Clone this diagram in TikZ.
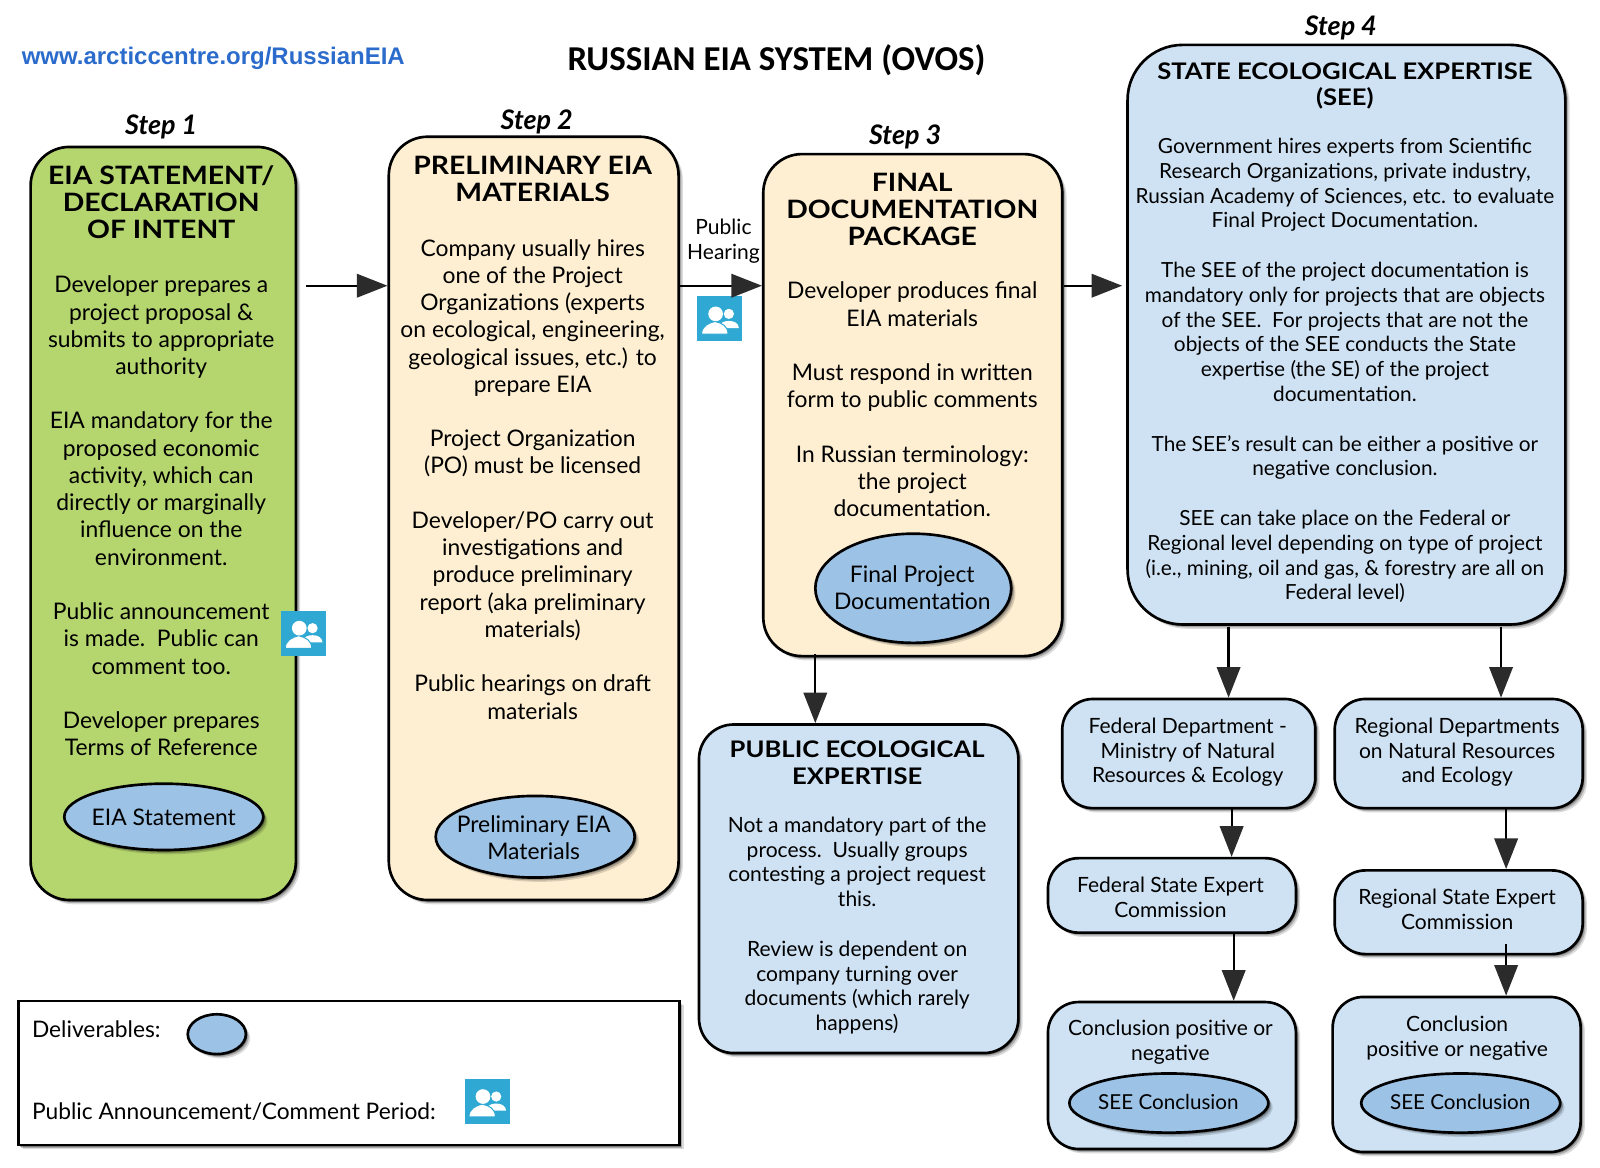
\documentclass[tikz,border=0pt]{standalone}
\usepackage{fontspec}
\usepackage{tikz}
\usetikzlibrary{arrows.meta,shapes.geometric,shadows}
\setmainfont{Lato}
\newfontfamily\urlfont{Liberation Sans}
\newfontfamily\titlefont{Carlito}
\newfontfamily\headfont[FakeStretch=1.12]{Lato}
\definecolor{stepgreen}{HTML}{B5D56F}
\definecolor{stepcream}{HTML}{FEEFD2}
\definecolor{stepblue}{HTML}{CFE2F3}
\definecolor{delivblue}{HTML}{9CC2E5}
\definecolor{iconblue}{HTML}{2FA9D3}
\definecolor{tipgrey}{HTML}{2B2B2B}
\definecolor{urlblue}{HTML}{2B6BCB}
\tikzset{
  softshadow/.style={
    drop shadow={shadow xshift=2.1pt,shadow yshift=-2.1pt,opacity=.14,fill=black},
    drop shadow={shadow xshift=1.4pt,shadow yshift=-1.4pt,opacity=.22,fill=black},
    drop shadow={shadow xshift=.8pt,shadow yshift=-.8pt,opacity=.3,fill=black}},
  stepbox/.style={draw,line width=1.3pt,rounded corners=19pt,inner sep=0pt,softshadow},
  smallbox/.style={stepbox,fill=stepblue,rounded corners=15pt},
  deliv/.style={ellipse,draw,line width=1.3pt,fill=delivblue,inner sep=0pt,softshadow},
  bodytext/.style={align=center,inner sep=0pt,anchor=north,font=\fontsize{11.2}{13.35}\selectfont},
  seetext/.style={align=center,inner sep=0pt,anchor=north,font=\fontsize{10.3}{12.15}\selectfont},
  headtext/.style={align=center,inner sep=0pt,anchor=north,font=\headfont\fontsize{12.4}{13.3}\selectfont\bfseries},
  seehead/.style={headtext,font=\headfont\fontsize{11.2}{12.8}\selectfont\bfseries},
  steplabel/.style={inner sep=0pt,font=\fontsize{13.2}{15}\selectfont\bfseries\itshape},
  delivtext/.style={inner sep=0pt,align=center,font=\fontsize{11.2}{13.35}\selectfont},
  flow/.style={draw=black,line width=1.1pt,-{Triangle[length=15pt,width=11.5pt,color=tipgrey]}},
  iconbox/.style={fill=iconblue,inner sep=0pt,minimum size=22pt},
  peopleicon/.pic={
    \fill[white] (8.8,-4.9) circle (5);
    \fill[white] (-2,9) .. controls (0,3) and (5,2) .. (8.8,2) .. controls (14,2) and (18,4) .. (18.6,9) -- cycle;
    \fill[white,draw=iconblue,line width=.5pt] (-18,15) .. controls (-18,7) and (-11,4) .. (-5,2.5) .. controls (2,4) and (8,7) .. (8,15) -- cycle;
    \fill[white] (-4.2,-4.9) circle (7.2);
  }
}
\begin{document}
\begin{tikzpicture}[x=0.5pt,y=-0.5pt]
\useasboundingbox (0,0) rectangle (1568,1144.6);
\node[inner sep=0pt,anchor=west,text=urlblue,font=\urlfont\fontsize{11.75}{13}\selectfont\bfseries] (urlsite) at (21,57) {www.arcticcentre.org/RussianEIA};
\node[inner sep=0pt,font=\titlefont\fontsize{17.1}{19}\selectfont\bfseries] (maintitle) at (761,59) {RUSSIAN EIA SYSTEM (OVOS)};
\node[steplabel] (labelone) at (158,124) {Step 1};
\node[steplabel] (labeltwo) at (526,119) {Step 2};
\node[steplabel] (labelthree) at (887,134) {Step 3};
\node[steplabel] (labelfour) at (1314,27) {Step 4};

\node[stepbox,fill=stepgreen,minimum width=130pt,minimum height=369pt] (stepone) at (160,513) {};
\node[stepbox,fill=stepcream,minimum width=142pt,minimum height=374pt] (steptwo) at (523,508) {};
\node[stepbox,fill=stepcream,minimum width=146.5pt,minimum height=246pt] (stepthree) at (894.5,397) {};
\node[stepbox,fill=stepblue,rounded corners=27pt,minimum width=214.5pt,minimum height=284pt] (stepfour) at (1319.5,328) {};
\node[stepbox,fill=stepblue,rounded corners=17pt,minimum width=156.5pt,minimum height=161pt] (pubexp) at (841.5,871) {};
\node[smallbox,minimum width=124pt,minimum height=53.5pt] (feddept) at (1165,738.5) {};
\node[smallbox,minimum width=121.5pt,minimum height=53.5pt] (regdept) at (1429.5,738.5) {};
\node[smallbox,minimum width=121.5pt,minimum height=36.5pt] (fedcomm) at (1148.5,877.5) {};
\node[smallbox,minimum width=121.5pt,minimum height=41pt] (regcomm) at (1429.5,894) {};
\node[smallbox,minimum width=121.5pt,minimum height=72pt] (fedconc) at (1148.5,1054) {};
\node[smallbox,minimum width=121.5pt,minimum height=76pt] (regconc) at (1427.5,1053) {};
\node[draw,line width=1.3pt,fill=white,inner sep=0pt,minimum width=324pt,minimum height=70.5pt,softshadow] (legendbox) at (342,1051.5) {};

\node[headtext] (headone) at (158,162) {EIA STATEMENT/\\DECLARATION\\OF INTENT};
\node[bodytext] (textone) at (158,270) {Developer prepares a\\project proposal \&\\submits to appropriate\\authority\\[13.35pt]
EIA mandatory for the\\proposed economic\\activity, which can\\directly or marginally\\influence on the\\environment.\\[13.35pt]
Public announcement\\is made.\ \ Public can\\comment too.\\[13.35pt]
Developer prepares\\Terms of Reference};
\node[headtext] (headtwo) at (522,152.5) {PRELIMINARY EIA\\MATERIALS};
\node[bodytext] (texttwo) at (522,234) {Company usually hires\\one of the Project\\Organizations (experts\\on ecological, engineering,\\geological issues, etc.) to\\prepare EIA\\[13.35pt]
Project Organization\\(PO) must be licensed\\[13.35pt]
Developer/PO carry out\\investigations and\\produce preliminary\\report (aka preliminary\\materials)\\[13.35pt]
Public hearings on draft\\materials};
\node[headtext] (headthree) at (894,169) {FINAL\\DOCUMENTATION\\PACKAGE};
\node[bodytext] (textthree) at (894,276) {Developer produces final\\EIA materials\\[13.35pt]
Must respond in written\\form to public comments\\[13.35pt]
In Russian terminology:\\the project\\documentation.};
\node[seehead] (headfour) at (1318,61) {STATE ECOLOGICAL EXPERTISE\\(SEE)};
\node[seetext,font=\fontsize{10.2}{12.15}\selectfont] (textfour) at (1318,135) {Government hires experts from Scientific\\Research Organizations, private industry,\\Russian Academy of Sciences, etc. to evaluate\\Final Project Documentation.\\[12.15pt]
The SEE of the project documentation is\\mandatory only for projects that are objects\\of the SEE.\ \ For projects that are not the\\objects of the SEE conducts the State\\expertise (the SE) of the project\\documentation.\\[12.15pt]
The SEE's result can be either a positive or\\negative conclusion.\\[12.15pt]
SEE can take place on the Federal or\\Regional level depending on type of project\\(i.e., mining, oil and gas, \& forestry are all on\\Federal level)};
\node[seehead] (headpub) at (840,726) {PUBLIC ECOLOGICAL\\EXPERTISE};
\node[seetext] (textpub) at (840,800) {Not a mandatory part of the\\process.\ \ Usually groups\\contesting a project request\\this.\\[12.15pt]
Review is dependent on\\company turning over\\documents (which rarely\\happens)};
\node[seetext] (textfed) at (1164,703) {Federal Department -\\Ministry of Natural\\Resources \& Ecology};
\node[seetext] (textreg) at (1428,703) {Regional Departments\\on Natural Resources\\and Ecology};
\node[seetext] (textfedc) at (1147,859) {Federal State Expert\\Commission};
\node[seetext] (textregc) at (1428,871) {Regional State Expert\\Commission};
\node[seetext] (textfedr) at (1147,999) {Conclusion positive or\\negative};
\node[seetext] (textregr) at (1428,995) {Conclusion\\positive or negative};
\node[seetext,anchor=center] (hearing) at (709,236) {Public\\Hearing};

\node[deliv,minimum width=97.5pt,minimum height=32.5pt] (eiastat) at (160.5,800.5) {};
\node[deliv,minimum width=97.5pt,minimum height=40pt] (prelim) at (524.5,820) {};
\node[deliv,minimum width=96pt,minimum height=53.5pt] (finaldoc) at (895,576.5) {};
\node[deliv,minimum width=97.5pt,minimum height=29pt] (seeleft) at (1145.5,1081) {};
\node[deliv,minimum width=97.5pt,minimum height=29pt] (seeright) at (1431.5,1081) {};
\node[deliv,minimum width=28.5pt,minimum height=19.5pt] (legendoval) at (212.5,1013.5) {};
\node[delivtext] (eiastattext) at (eiastat) {EIA Statement};
\node[delivtext] (prelimtext) at (523,821) {Preliminary EIA\\Materials};
\node[delivtext] (finaldoctext) at (894,576) {Final Project\\Documentation};
\node[delivtext,font=\fontsize{10.1}{12}\selectfont] (seelefttext) at (1145,1080) {SEE Conclusion};
\node[delivtext,font=\fontsize{10.1}{12}\selectfont] (seerighttext) at (1431,1080) {SEE Conclusion};
\node[inner sep=0pt,anchor=west,font=\fontsize{11.15}{13.35}\selectfont] (legenddel) at (31,1009) {Deliverables:};
\node[inner sep=0pt,anchor=west,font=\fontsize{11.15}{13.35}\selectfont] (legendpub) at (31,1089) {Public Announcement/Comment Period:};

\node[iconbox] (iconone) at (297.5,620.5) {};
\node[iconbox] (icontwo) at (705.5,312.5) {};
\node[iconbox] (iconthree) at (477.5,1079.5) {};
\pic at (iconone) {peopleicon};
\pic at (icontwo) {peopleicon};
\pic at (iconthree) {peopleicon};

\coordinate (startone) at (300,280);
\coordinate (starttwo) at (1204,614);
\coordinate (startthree) at (1471,614);
\coordinate (startfour) at (799,641);
\coordinate (startfive) at (1476,925);
\draw[flow] (startone) -- (steptwo.west |- startone);
\draw[flow] (steptwo.east |- startone) -- (stepthree.west |- startone);
\draw[flow] (stepthree.east |- startone) -- ([xshift=-2pt]stepfour.west |- startone);
\draw[flow] (startfour) -- (pubexp.north -| startfour);
\draw[flow] (starttwo) -- (feddept.north -| starttwo);
\draw[flow] (startthree) -- (regdept.north -| startthree);
\draw[flow] (feddept.south -| 1207,0) -- (fedcomm.north -| 1207,0);
\draw[flow] (fedcomm.south -| 1209,0) -- (fedconc.north -| 1209,0);
\draw[flow] (regdept.south -| 1476,0) -- (regcomm.north -| 1476,0);
\draw[flow] (startfive) -- (regconc.north -| startfive);
\end{tikzpicture}
\end{document}
